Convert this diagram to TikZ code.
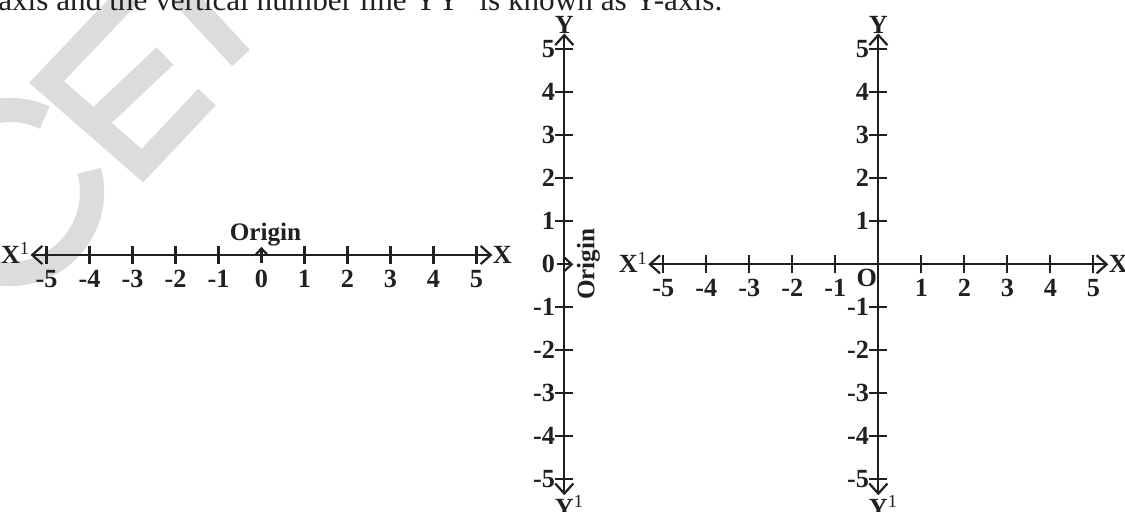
\documentclass[tikz,border=0pt]{standalone}
\usepackage{fontspec}
\setmainfont{Liberation Serif}
\usetikzlibrary{calc, arrows.meta}
\definecolor{ink}{HTML}{231F20}
\definecolor{mark}{HTML}{DCDCDC}

\begin{document}
\begin{tikzpicture}[x=0.75cm, y=0.75cm]

        % page frame
        \useasboundingbox (0,0) rectangle (26.163,11.907);

        \tikzset{
          numline/.style={line width=1.1pt, draw=ink, {Straight Barb[length=5pt,width=9pt]}-{Straight Barb[length=5pt,width=9pt]}},
          tickmark/.style={line width=1.1pt, draw=ink},
          pointer/.style={line width=1.1pt, draw=ink, -{Straight Barb[length=3.5pt,width=6.5pt]}},
          numlabel/.style={font=\fontsize{13}{15}\selectfont\bfseries, text=ink, inner sep=0pt},
          namelabel/.style={numlabel, font=\fontsize{13}{15}\selectfont\bfseries},
          wmark/.style={line width=12pt, draw=mark},
        }

        \def\tk{0.21}   % half length of a tick
        \def\ext{5.37}  % arrow tips beyond 5

        % 0. Watermark letters
        \draw[wmark] ($(0.233,7.442)+(65:1.907)$) arc[start angle=65, end angle=375, radius=1.907];
        % E and the next letter (drawn in pixels, y downwards)
        \begin{scope}[shift={(0,11.907)}, x=0.017442cm, y=-0.017442cm]
          \draw[wmark] (130,-6) -- (46.6,82) -- (142.4,165.7) -- (207,97);
          \draw[wmark] (93,124) -- (165,56);
          \draw[wmark] (178,-10) -- (241,58);
        \end{scope}

        % top line of the page text
        \node[anchor=base west, inner sep=0pt, font=\fontsize{15.5}{18}\selectfont, text=ink] (head) at (-0.05,11.674)
          {axis and the vertical number line YY\textsuperscript{1} is known as Y-axis.};

        % 1. Horizontal number line
        \coordinate (O1) at (6.081,5.977);
        \coordinate (L1) at ($(O1)+(-\ext,0)$);
        \coordinate (R1) at ($(O1)+(\ext,0)$);
        \draw[numline] (L1) -- (R1);
        \foreach \k in {-5,...,-1,1,2,...,5}
          \draw[tickmark] ($(O1)+(\k,-\tk)$) -- ($(O1)+(\k,\tk)$);
        \foreach \k in {-5,...,5}
          \node[numlabel] (a\k) at ($(O1)+(\k,-0.55)$) {\k};
        \node[namelabel, anchor=base east] (xl1) at ($(L1)+(0,-0.2)$) {X\textsuperscript{\mdseries 1}};
        \node[namelabel, anchor=base west] (xr1) at ($(R1)+(0,-0.2)$) {X};

        % origin pointer
        \coordinate (P1a) at ($(O1)+(0,-0.19)$);
        \coordinate (P1b) at ($(O1)+(0,0.19)$);
        \draw[pointer] (P1a) -- (P1b);
        \node[namelabel, font=\fontsize{12.5}{14}\selectfont\bfseries, anchor=south, xshift=2pt] (org1) at (P1b) {Origin};

        % 2. Vertical number line
        \coordinate (O2) at (13.123,5.760);
        \coordinate (T2) at ($(O2)+(0,\ext)$);
        \coordinate (B2) at ($(O2)+(0,-\ext)$);
        \draw[numline] (B2) -- (T2);
        \foreach \k in {-5,...,-1,1,2,...,5}
          \draw[tickmark] ($(O2)+(-\tk,\k)$) -- ($(O2)+(\tk,\k)$);
        \foreach \k in {-5,...,5}
          \node[numlabel, anchor=east] (b\k) at ($(O2)+(-0.21,\k)$) {\k};
        \node[namelabel, anchor=south] (yt2) at (T2) {Y};
        \node[namelabel, anchor=north] (yb2) at (B2) {Y\rlap{\textsuperscript{\mdseries 1}}};

        % origin pointer
        \coordinate (P2a) at ($(O2)+(-0.18,0)$);
        \coordinate (P2b) at ($(O2)+(0.21,0)$);
        \draw[pointer] (P2a) -- (P2b);
        \node[namelabel, font=\fontsize{12.5}{14}\selectfont\bfseries, rotate=90] (org2) at ($(O2)+(0.56,0)$) {Origin};

        % 3. Both lines crossing at O
        \coordinate (O3) at (20.426,5.760);
        \coordinate (T3) at ($(O3)+(0,\ext)$);
        \coordinate (B3) at ($(O3)+(0,-\ext)$);
        \coordinate (L3) at ($(O3)+(-5.35,0)$);
        \coordinate (R3) at ($(O3)+(5.35,0)$);
        \draw[numline] (B3) -- (T3);
        \draw[numline] (L3) -- (R3);
        \foreach \k in {-5,...,-1,1,2,...,5}{
          \draw[tickmark] ($(O3)+(-\tk,\k)$) -- ($(O3)+(\tk,\k)$);
          \draw[tickmark] ($(O3)+(\k,-\tk)$) -- ($(O3)+(\k,\tk)$);
          \node[numlabel, anchor=east] (c\k) at ($(O3)+(-0.21,\k)$) {\k};
          \node[numlabel] (d\k) at ($(O3)+(\k,-0.55)$) {\k};
        }
        \node[namelabel] (o3) at ($(O3)+(-0.27,-0.32)$) {O};
        \node[namelabel, anchor=south] (yt3) at (T3) {Y};
        \node[namelabel, anchor=north] (yb3) at (B3) {Y\rlap{\textsuperscript{\mdseries 1}}};
        \node[namelabel, anchor=base east] (xl3) at ($(L3)+(0,-0.2)$) {X\textsuperscript{\mdseries 1}};
        \node[namelabel, anchor=base west] (xr3) at ($(R3)+(0,-0.2)$) {X};

\end{tikzpicture}
\end{document}
